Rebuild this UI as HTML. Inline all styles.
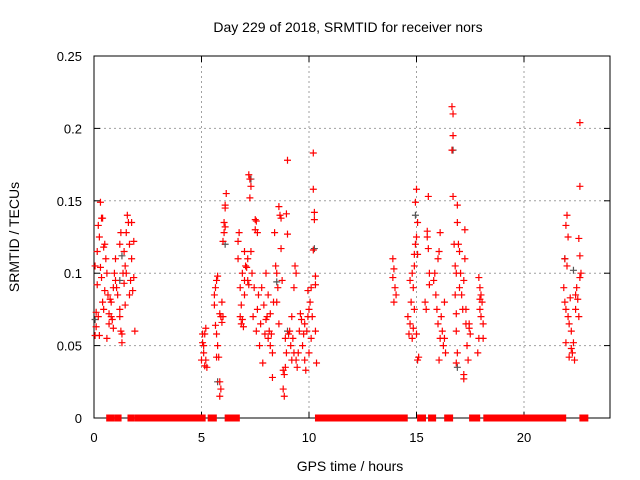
<!DOCTYPE html>
<html><head><meta charset="utf-8"><style>
body{margin:0;background:#fff;}
svg{display:block;font-family:"Liberation Sans",sans-serif;}
</style></head><body>
<svg id="chart" width="640" height="480" viewBox="0 0 640 480">
<rect width="640" height="480" fill="#fff"/>
<text x="348" y="32" font-size="14" text-anchor="middle">Day 229 of 2018, SRMTID for receiver nors</text>
<text x="0" y="0" font-size="14" text-anchor="middle" transform="translate(19,237) rotate(-90)">SRMTID / TECUs</text>
<text x="350" y="471" font-size="14" text-anchor="middle">GPS time / hours</text>
<g id="grid"></g><g id="axes"></g><g id="zeros"></g><g id="pts"></g>
</svg>
<script>
const xTicks=[0,5,10,15,20];
const yTicks=[0,0.05,0.1,0.15,0.2,0.25];
const yTickLabels=["0","0.05","0.1","0.15","0.2","0.25"];
const zeroRuns=[[0.73,0.78],[1.1,1.12],[1.72,1.72],[2.05,5.03],[5.45,5.55],[6.24,6.62],[10.44,13.75],[14.07,14.43],[15.19,15.28],[15.7,15.75],[16.45,16.54],[17.61,17.8],[18.27,21.8],[22.74,22.83]];
const redPoints=[[0.05,0.105],[0.1,0.073],[0.1,0.063],[0.05,0.057],[0.15,0.092],[0.2,0.133],[0.25,0.125],[0.3,0.149],[0.35,0.138],[0.4,0.138],[0.45,0.118],[0.3,0.104],[0.35,0.097],[0.4,0.08],[0.45,0.075],[0.5,0.088],[0.55,0.11],[0.6,0.1],[0.65,0.085],[0.7,0.072],[0.7,0.065],[0.75,0.082],[0.8,0.08],[0.8,0.07],[0.85,0.068],[0.9,0.062],[0.9,0.09],[0.95,0.1],[1.0,0.095],[1.05,0.09],[1.0,0.11],[0.6,0.055],[0.25,0.057],[1.2,0.075],[1.25,0.06],[1.3,0.052],[1.3,0.058],[1.35,0.1],[1.4,0.093],[1.45,0.105],[1.5,0.128],[1.55,0.14],[1.6,0.135],[1.65,0.12],[1.7,0.095],[1.75,0.11],[1.8,0.088],[1.85,0.122],[1.2,0.12],[1.25,0.128],[1.4,0.115],[1.5,0.1],[1.65,0.085],[1.9,0.06],[1.1,0.085],[1.2,0.07],[0.15,0.115],[0.2,0.07],[0.5,0.12],[1.75,0.135],[1.45,0.078],[1.85,0.097],
[5.0,0.04],[5.05,0.052],[5.1,0.05],[5.1,0.045],[5.15,0.036],[5.15,0.058],[5.2,0.062],[5.2,0.04],[5.25,0.035],[5.05,0.058],
[5.6,0.085],[5.65,0.09],[5.7,0.095],[5.75,0.098],[5.6,0.078],[5.65,0.064],[5.7,0.058],[5.75,0.05],[5.8,0.042],[5.85,0.025],[5.85,0.015],[5.9,0.02],[5.85,0.072],[5.9,0.07],[5.95,0.066],[6.0,0.07],[5.95,0.08],[5.7,0.042],[6.0,0.122],[6.05,0.128],[6.05,0.135],[6.1,0.132],[6.1,0.145],[6.15,0.155],[6.1,0.147],
[6.7,0.11],[6.75,0.128],[6.7,0.122],[6.8,0.09],[6.8,0.07],[6.85,0.065],[6.9,0.068],[6.95,0.063],[6.9,0.1],[7.0,0.085],[7.0,0.115],[7.05,0.105],[7.1,0.104],[7.15,0.095],[7.15,0.11],[7.2,0.092],[7.2,0.168],[7.25,0.165],[7.25,0.152],[7.3,0.16],[7.3,0.115],[7.35,0.1],[7.4,0.07],[7.45,0.09],[7.5,0.13],[7.5,0.137],[7.55,0.136],[7.6,0.128],[7.55,0.06],[7.6,0.075],[7.65,0.085],[7.7,0.05],[7.75,0.065],[7.8,0.09],[7.85,0.038],[7.9,0.078],[7.95,0.058],[8.0,0.068],[8.05,0.07],[8.1,0.055],[8.1,0.085],[8.15,0.06],[8.2,0.05],[8.25,0.058],[8.3,0.045],[8.3,0.028],[8.35,0.08],[8.4,0.128],[8.45,0.105],[8.5,0.08],[8.55,0.09],[8.6,0.065],[8.6,0.146],[8.65,0.14],[8.7,0.138],[8.7,0.117],[8.75,0.095],[8.8,0.033],[8.8,0.02],[8.85,0.03],[8.85,0.015],[8.9,0.035],[8.95,0.045],[8.95,0.141],[9.0,0.178],[9.0,0.127],[9.05,0.058],[9.1,0.06],[9.15,0.05],[9.2,0.07],[9.25,0.055],[9.3,0.09],[9.35,0.105],[9.4,0.1],[9.4,0.04],[9.45,0.035],[9.5,0.045],[9.55,0.06],[9.6,0.072],[9.65,0.068],[9.7,0.05],[9.75,0.058],[9.8,0.04],[9.85,0.033],[9.9,0.06],[9.95,0.07],[10.0,0.075],[10.05,0.08],[10.0,0.045],[10.1,0.055],[10.1,0.09],[10.15,0.07],[10.2,0.183],[10.2,0.158],[10.25,0.142],[10.25,0.137],[10.2,0.116],[10.3,0.098],[10.3,0.092],[10.35,0.038],[10.3,0.06],[9.95,0.088],[8.0,0.1],[8.5,0.1],[9.2,0.04],[9.8,0.065],[7.0,0.095],[6.85,0.078],[8.2,0.072],[8.9,0.055],[9.3,0.045],
[13.9,0.11],[13.95,0.103],[13.9,0.097],[14.0,0.09],[14.05,0.085],[13.95,0.08],
[14.6,0.07],[14.65,0.058],[14.7,0.065],[14.75,0.08],[14.7,0.095],[14.8,0.1],[14.85,0.09],[14.9,0.105],[14.9,0.113],[14.95,0.12],[15.0,0.125],[15.0,0.158],[14.95,0.149],[15.05,0.135],[15.05,0.113],[14.8,0.055],[14.85,0.062],[15.1,0.042],[15.05,0.04],[14.9,0.075],[15.0,0.058],
[15.4,0.08],[15.45,0.075],[15.5,0.129],[15.5,0.125],[15.55,0.117],[15.6,0.1],[15.6,0.092],[15.55,0.153],[15.8,0.095],[15.85,0.1],[15.9,0.085],[15.95,0.075],[16.0,0.11],[16.05,0.115],[16.1,0.128],[16.0,0.065],[16.05,0.04],[16.1,0.055],[16.15,0.07],[16.2,0.06],[16.25,0.05],[16.3,0.055],[16.35,0.045],[16.3,0.08],
[16.65,0.215],[16.7,0.21],[16.7,0.195],[16.65,0.185],[16.7,0.153],[16.75,0.12],[16.8,0.105],[16.85,0.1],[16.9,0.147],[16.9,0.135],[16.95,0.12],[17.0,0.115],[17.0,0.09],[17.05,0.1],[17.1,0.085],[17.15,0.075],[16.8,0.085],[16.85,0.072],[16.9,0.045],[16.85,0.038],[16.85,0.06],[17.2,0.095],[17.25,0.13],[17.25,0.11],[17.3,0.065],[17.2,0.03],[17.2,0.027],[17.35,0.05],[17.4,0.04],[17.45,0.065],[17.5,0.058],[17.45,0.062],[17.3,0.075],
[17.9,0.097],[17.95,0.09],[18.0,0.085],[18.05,0.08],[17.95,0.075],[18.0,0.07],[18.1,0.065],[17.9,0.055],[17.85,0.045],[18.1,0.055],[17.95,0.082],
[21.85,0.09],[21.9,0.08],[21.95,0.075],[21.95,0.133],[22.0,0.14],[22.05,0.125],[21.9,0.11],[22.0,0.105],[22.05,0.07],[22.1,0.065],[22.15,0.083],[22.2,0.06],[22.2,0.048],[22.25,0.045],[22.3,0.052],[22.35,0.04],[22.4,0.075],[22.45,0.09],[22.5,0.082],[22.55,0.07],[22.6,0.112],[22.55,0.124],[22.6,0.097],[22.6,0.16],[22.6,0.204],[22.65,0.1],[22.4,0.085],[21.95,0.052],[22.1,0.042]];
const grayPoints=[[0.05,0.068],[1.3,0.112],[1.2,0.095],[5.75,0.025],[6.1,0.12],[7.3,0.165],[8.5,0.094],[10.25,0.117],[14.95,0.14],[16.7,0.185],[16.9,0.035],[21.9,0.11],[22.3,0.102],[9.0,0.06]];

const L=94,R=610,T=56,B=418,XMAX=24,YMAX=0.25;
const NS="http://www.w3.org/2000/svg";
function xs(v){return L+v/XMAX*(R-L);}
function ys(v){return B-v/YMAX*(B-T);}
function mk(tag,attrs,parent){const e=document.createElementNS(NS,tag);for(const k in attrs)e.setAttribute(k,attrs[k]);parent.appendChild(e);return e;}
const grid=document.getElementById('grid'),axes=document.getElementById('axes'),zg=document.getElementById('zeros'),pg=document.getElementById('pts');
xTicks.forEach(t=>{
  const x=xs(t);
  if(t>0){const g=mk('line',{x1:x,x2:x,y1:T,y2:B,stroke:'#a0a0a0','stroke-dasharray':'2,3'},grid);
  
  }
  const tx=mk('text',{x:x,y:B+24,'font-size':13,'text-anchor':'middle'},axes);tx.textContent=t;
  
  
  mk('line',{x1:x,x2:x,y1:B,y2:B-6,stroke:'#000'},axes);
  mk('line',{x1:x,x2:x,y1:T,y2:T+6,stroke:'#000'},axes);
});
yTicks.forEach((t,i)=>{
  const y=ys(t);
  if(t>0&&t<YMAX){const g=mk('line',{x1:L,x2:R,y1:y,y2:y,stroke:'#a0a0a0','stroke-dasharray':'2,3'},grid);
  
  }
  const tx=mk('text',{x:L-12,y:y+5,'font-size':13,'text-anchor':'end'},axes);tx.textContent=yTickLabels[i];
  
  
  mk('line',{x1:L,x2:L+6,y1:y,y2:y,stroke:'#000'},axes);
  mk('line',{x1:R,x2:R-6,y1:y,y2:y,stroke:'#000'},axes);
});
const frame=mk('rect',{x:L,y:T,width:R-L,height:B-T,fill:'none',stroke:'#000'},axes);


zeroRuns.forEach(r=>{
  const e=mk('rect',{x:xs(r[0])-3.5,y:ys(0)-3.5,width:xs(r[1])-xs(r[0])+7,height:7,fill:'#f00'},zg);
  
  
});
function plus(p,color,name){
  const x=xs(p[0]),y=ys(p[1]);
  const e=mk('path',{d:`M${x-3.5} ${y}H${x+3.5}M${x} ${y-3.5}V${y+3.5}`,stroke:color,'stroke-width':1.2,fill:'none'},pg);
  
  
}
grayPoints.forEach(p=>plus(p,'#555','gray-point'));
redPoints.forEach(p=>plus(p,'#f00','red-point'));
</script>
</body></html>
